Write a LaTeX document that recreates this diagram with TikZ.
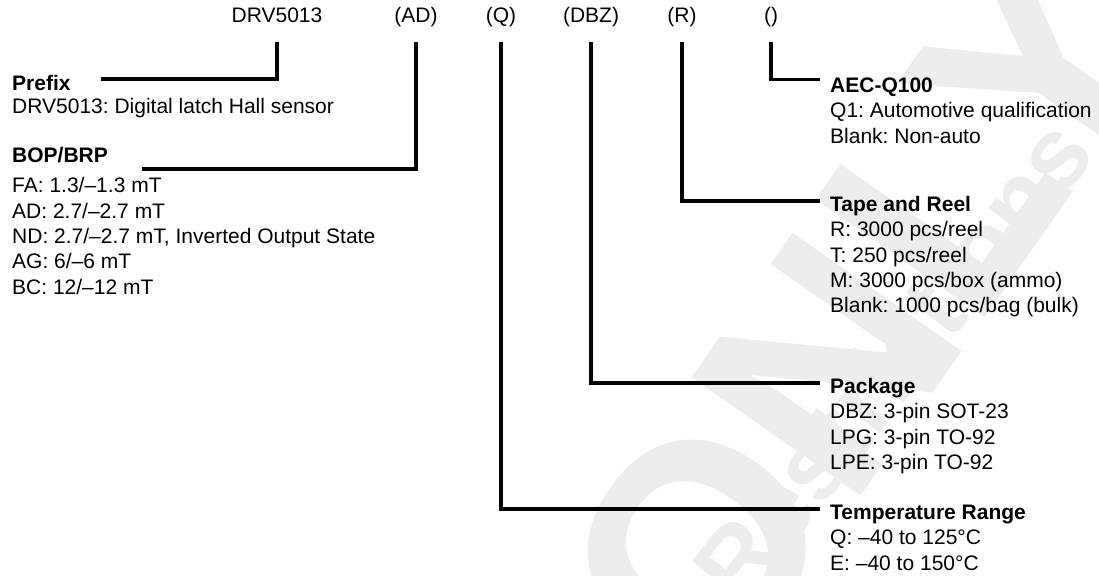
\documentclass[tikz,border=0pt]{standalone}
\usepackage{fontspec}
\setmainfont{Liberation Sans}
\usetikzlibrary{positioning}
\frenchspacing

\begin{document}
\begin{tikzpicture}[x=1pt,y=-1pt,
    code/.style={inner sep=0pt,anchor=base,font=\fontsize{21}{25.3}\selectfont},
    head/.style={inner sep=0pt,anchor=base west,font=\fontsize{21}{25.3}\selectfont\bfseries},
    body/.style={inner sep=0pt,align=left,font=\fontsize{21}{25.3}\selectfont},
    lead/.style={line width=3.6pt},
    wmark/.style={inner sep=0pt,text=gray!14}]
        \useasboundingbox (0,0) rectangle (1099,575);
        \begin{scope}
          \clip (0,0) rectangle (1099,575);
          \node[wmark,rotate=55,font=\fontsize{300}{300}\selectfont\bfseries] (wonly) at (862,314) {ONLY};
          \node[wmark,rotate=52,font=\fontsize{100}{100}\selectfont\bfseries] (wrest) at (892,360) {Restrictions};
        \end{scope}
        % part number fields
        \node[code] (drv) at (277,22.5) {DRV5013};
        \node[code] (bop) at (416,22.5) {(AD)};
        \node[code] (tmp) at (501,22.5) {(Q)};
        \node[code] (pkg) at (591,22.5) {(DBZ)};
        \node[code] (reel) at (682,22.5) {(R)};
        \node[code] (aec) at (771,22.5) {()};
        % left descriptions
        \node[head] (drvh) at (12,90.5) {Prefix};
        \node[body,below right=5.5pt and 0pt of drvh.base west] (drvb) {\strut DRV5013: Digital latch Hall sensor};
        \node[head] (boph) at (12,162.5) {BOP/BRP};
        \node[body,below right=12.5pt and 0pt of boph.base west] (bopb) {\strut FA: 1.3/–1.3 mT\\AD: 2.7/–2.7 mT\\ND: 2.7/–2.7 mT, Inverted Output State\\AG: 6/–6 mT\\BC: 12/–12 mT};
        % right descriptions
        \node[head] (aech) at (830,92.5) {AEC-Q100};
        \node[body,below right=7.5pt and 0pt of aech.base west] (aecb) {\strut Q1: Automotive qualification\\Blank: Non-auto};
        \node[head] (reelh) at (830,211.5) {Tape and Reel};
        \node[body,below right=7.5pt and 0pt of reelh.base west] (reelb) {\strut R: 3000 pcs/reel\\T: 250 pcs/reel\\M: 3000 pcs/box (ammo)\\Blank: 1000 pcs/bag (bulk)};
        \node[head] (pkgh) at (830,393.5) {Package};
        \node[body,below right=7.5pt and 0pt of pkgh.base west] (pkgb) {\strut DBZ: 3-pin SOT-23\\LPG: 3-pin TO-92\\LPE: 3-pin TO-92};
        \node[head] (tmph) at (830,519.5) {Temperature Range};
        \node[body,below right=7.5pt and 0pt of tmph.base west] (tmpb) {\strut Q: –40 to 125°C\\E: –40 to 150°C};
        % leaders
        \draw[lead] ([yshift=-19.5pt]drv.base) |- ([xshift=30pt,yshift=11.5pt]drvh.base east);
        \draw[lead] ([yshift=-19.5pt]bop.base) |- ([xshift=34pt,yshift=-6.5pt]boph.base east);
        \draw[lead] ([yshift=-19.5pt]aec.base) |- ([xshift=-10pt,yshift=13pt]aech.base west);
        \draw[lead] ([yshift=-19.5pt]reel.base) |- ([xshift=-10pt,yshift=10.5pt]reelh.base west);
        \draw[lead] ([yshift=-19.5pt]pkg.base) |- ([xshift=-10pt,yshift=10.5pt]pkgh.base west);
        \draw[lead] ([yshift=-19.5pt]tmp.base) |- ([xshift=-10pt,yshift=10.5pt]tmph.base west);
\end{tikzpicture}
\end{document}
